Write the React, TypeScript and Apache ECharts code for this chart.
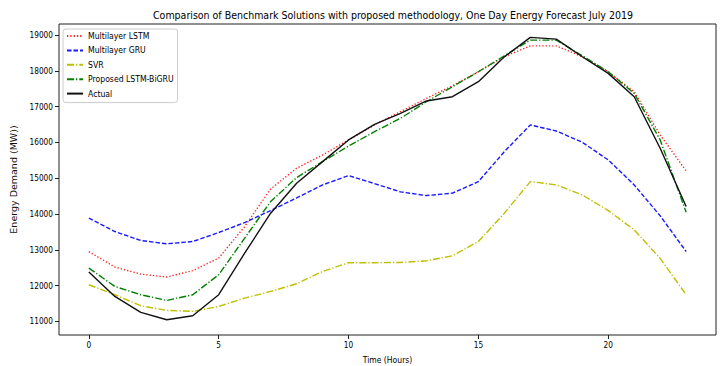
import React, { useEffect, useRef } from "react";
import * as echarts from "echarts";

const hours = [0,1,2,3,4,5,6,7,8,9,10,11,12,13,14,15,16,17,18,19,20,21,22,23];
const lstm = [12950,12520,12320,12240,12420,12770,13650,14700,15280,15650,16070,16490,16860,17230,17585,17976,18395,18700,18700,18395,17976,17418,16209,15205];
const gru = [13885,13511,13260,13168,13232,13483,13762,14097,14450,14814,15074,14850,14620,14516,14583,14906,15743,16490,16321,16005,15512,14814,13950,12953];
const svr = [12024,11745,11438,11307,11279,11419,11652,11837,12052,12395,12640,12640,12646,12693,12833,13232,14024,14906,14814,14535,14097,13558,12760,11745];
const proposed = [12490,11977,11745,11586,11745,12303,13327,14349,15018,15464,15900,16301,16675,17138,17557,17976,18423,18860,18860,18423,17976,17372,16070,14052];
const actual = [12378,11698,11251,11047,11159,11745,12908,14024,14862,15464,16070,16508,16815,17159,17278,17697,18395,18935,18888,18395,17930,17278,15838,14209];
const xTicks = [0,5,10,15,20];
const yTicks = [11000,12000,13000,14000,15000,16000,17000,18000,19000];

const FONT = "'DejaVu Sans Condensed', 'DejaVu Sans', sans-serif";

function pairs(vals: number[]) {
  return hours.map((h, i) => [h, vals[i]]);
}

export default function App() {
  const ref = useRef<HTMLDivElement>(null);
  useEffect(() => {
    if (!ref.current) return;
    const chart = echarts.init(ref.current, undefined, { renderer: "svg" });
    const mk = (name: string, vals: number[], color: string, type: any) => ({
      name,
      type: "line",
      data: pairs(vals),
      symbol: "none",
      lineStyle: { color, width: 1.4, type },
      itemStyle: { color },
      z: name === "Actual" ? 5 : 3,
    });
    chart.setOption({
      animation: false,
      backgroundColor: "#fff",
      textStyle: { fontFamily: FONT },
      title: {
        text: "Comparison of Benchmark Solutions with proposed methodology, One Day Energy Forecast July 2019",
        left: 388,
        textAlign: "center",
        top: 4,
        textStyle: { fontSize: 10.5, fontWeight: "normal", color: "#000", fontFamily: FONT },
      },
      grid: {
        left: 59,
        right: 5,
        top: 24,
        bottom: 31,
        show: true,
        borderColor: "#222",
        borderWidth: 1,
        containLabel: false,
        outerBoundsMode: "none",
      },
      legend: {
        orient: "vertical",
        left: 63,
        top: 29,
        padding: [2, 4, 4, 3],
        itemGap: 4.4,
        itemWidth: 16,
        itemHeight: 10,
        backgroundColor: "rgba(255,255,255,0.8)",
        borderColor: "#ccc",
        borderWidth: 1,
        borderRadius: 3,
        itemStyle: { color: "rgba(0,0,0,0)", borderWidth: 0, opacity: 0 },
        textStyle: { fontSize: 8.6, color: "#000", fontFamily: FONT, lineHeight: 10 },
        data: ["Multilayer LSTM", "Multilayer GRU", "SVR", "Proposed LSTM-BiGRU", "Actual"],
      },
      xAxis: {
        type: "value",
        min: -1.15,
        max: 24.15,
        name: "Time (Hours)",
        nameLocation: "middle",
        nameGap: 20,
        nameTextStyle: { fontSize: 8.5, color: "#000", fontFamily: FONT },
        axisLine: { show: false, onZero: false },
        splitLine: { show: false },
        axisTick: { show: true, length: 4, inside: false, lineStyle: { color: "#222" }, customValues: xTicks },
        axisLabel: { fontSize: 8.2, color: "#000", margin: 6, customValues: xTicks, fontFamily: FONT },
      },
      yAxis: {
        type: "value",
        min: 10620,
        max: 19310,
        name: "Energy Demand (MW))",
        nameLocation: "middle",
        nameGap: 19,
        nameTextStyle: { fontSize: 9.5, color: "#111", fontFamily: "'DejaVu Sans', sans-serif" },
        axisLine: { show: false, onZero: false },
        splitLine: { show: false },
        axisTick: { show: true, length: 4, inside: false, lineStyle: { color: "#222" }, customValues: yTicks },
        axisLabel: {
          fontSize: 8.2,
          color: "#000",
          margin: 6,
          customValues: yTicks,
          fontFamily: FONT,
          formatter: (v: number) => String(v),
        },
      },
      series: [
        mk("Multilayer LSTM", lstm, "#ff2020", [1.3, 2]),
        mk("Multilayer GRU", gru, "#1a1aff", [4.5, 2]),
        mk("SVR", svr, "#bfbf00", [7, 2, 1.3, 2]),
        mk("Proposed LSTM-BiGRU", proposed, "#008000", [7, 2, 1.3, 2]),
        mk("Actual", actual, "#111", "solid"),
      ],
    });
    return () => chart.dispose();
  }, []);
  return (
    <div
      ref={ref}
      style={{ position: "fixed", left: 0, top: 0, width: 721, height: 366, background: "#fff" }}
    />
  );
}
